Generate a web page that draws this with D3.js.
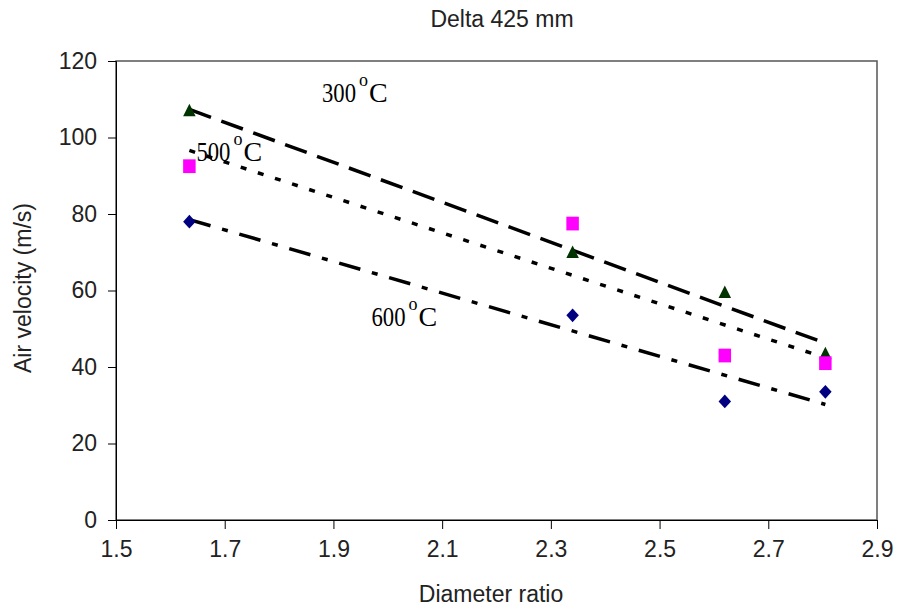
<!DOCTYPE html>
<html>
<head>
    <title>Delta 425 mm</title>
    <script src="https://cdnjs.cloudflare.com/ajax/libs/d3/7.8.5/d3.min.js"></script>
    <style>
        body {
            background: #ffffff;
            margin: 0;
            overflow: hidden;
        }
        text {
            font-family: "Liberation Sans", Arial, sans-serif;
            fill: #222;
        }
        .tick text {
            font-size: 23px;
        }
        .tick line, .domain {
            stroke: #000;
        }
        .temp-label {
            font-family: "Liberation Serif", "Times New Roman", serif;
            font-size: 28px;
            fill: #000;
        }
    </style>
</head>
<body>
    <svg id="chart"></svg>

    <script>
        // diameter ratio of each nozzle
        const diameterRatio = [1.635, 2.34, 2.62, 2.805];

        // air velocity (m/s) per temperature
        const v300 = [107, 70, 59.5, 43.5];
        const v500 = [92.5, 77.5, 43, 41];
        const v600 = [78, 53.5, 31, 33.5];

        const xTicks = [1.5, 1.7, 1.9, 2.1, 2.3, 2.5, 2.7, 2.9];
        const yTicks = [0, 20, 40, 60, 80, 100, 120];

        // marker outlines, unit size
        const triangle = [[0, -0.55], [0.5, 0.45], [-0.5, 0.45]];
        const square = [[-0.5, -0.55], [0.5, -0.55], [0.5, 0.55], [-0.5, 0.55]];
        const diamond = [[0, -0.55], [0.5, 0], [0, 0.55], [-0.5, 0]];

        const series = [
            {name: "300", values: v300, color: "#003300", shape: triangle, dash: "23,11", labelX: 1.879, labelY: 109.3},
            {name: "500", values: v500, color: "#ff00ff", shape: square, dash: "6,12", labelX: 1.648, labelY: 93.8},
            {name: "600", values: v600, color: "#000080", shape: diamond, dash: "22,12,6,12", labelX: 1.97, labelY: 50.6}
        ];

        const width = 902, height = 611;
        const margin = {top: 61, right: 25, bottom: 91, left: 116};

        const svg = d3.select("#chart")
            .attr("width", width)
            .attr("height", height);

        const x = d3.scaleLinear().domain([1.5, 2.9]).range([margin.left, width - margin.right]);
        const y = d3.scaleLinear().domain([0, 120]).range([height - margin.bottom, margin.top]);

        // plot frame
        svg.append("rect")
            .attr("x", x(1.5)).attr("y", y(120))
            .attr("width", x(2.9) - x(1.5)).attr("height", y(0) - y(120))
            .attr("fill", "none").attr("stroke", "#555").attr("stroke-width", 1.5);

        svg.append("g")
            .attr("transform", `translate(0,${y(0)})`)
            .call(d3.axisBottom(x).tickValues(xTicks).tickSize(9).tickPadding(12).tickFormat(d3.format(".1f")))
            .call(g => g.selectAll("text").attr("fill", "#222"));

        svg.append("g")
            .attr("transform", `translate(${x(1.5)},0)`)
            .call(d3.axisLeft(y).tickValues(yTicks).tickSize(8).tickPadding(11))
            .call(g => g.selectAll("text").attr("fill", "#222"));

        // least squares trend line per series
        function fit(xs, ys) {
            const mx = d3.mean(xs), my = d3.mean(ys);
            const sxy = d3.sum(xs, (v, i) => (v - mx) * (ys[i] - my));
            const sxx = d3.sum(xs, v => (v - mx) * (v - mx));
            const b = sxy / sxx;
            return v => my + b * (v - mx);
        }

        const xMin = d3.min(diameterRatio), xMax = d3.max(diameterRatio);

        series.forEach(s => {
            const f = fit(diameterRatio, s.values);
            svg.append("line")
                .attr("x1", x(xMin)).attr("y1", y(f(xMin)))
                .attr("x2", x(xMax)).attr("y2", y(f(xMax)))
                .attr("stroke", "#000")
                .attr("stroke-width", 3.5)
                .attr("stroke-dasharray", s.dash);
        });

        const markerSize = 12.5;
        const line = d3.line();

        series.forEach(s => {
            const shapePath = line(s.shape.map(p => [p[0] * markerSize, p[1] * markerSize])) + "Z";
            svg.append("g")
                .selectAll("path")
                .data(s.values)
                .enter().append("path")
                .attr("transform", (d, i) => `translate(${x(diameterRatio[i])},${y(d)})`)
                .attr("d", shapePath)
                .attr("fill", s.color);
        });

        // temperature labels
        series.forEach(s => {
            const t = svg.append("text")
                .attr("class", "temp-label")
                .attr("x", x(s.labelX))
                .attr("y", y(s.labelY));
            t.append("tspan")
                .attr("textLength", 34)
                .attr("lengthAdjust", "spacingAndGlyphs")
                .text(s.name);
            t.append("tspan").attr("font-size", 18).attr("dx", 3).attr("dy", -16).text("o");
            t.append("tspan").attr("dx", 1).attr("dy", 16).text("C");
        });

        svg.append("text")
            .attr("x", 502).attr("y", 27)
            .attr("text-anchor", "middle")
            .style("font-size", "23px")
            .text("Delta 425 mm");

        svg.append("text")
            .attr("x", 491).attr("y", 602)
            .attr("text-anchor", "middle")
            .style("font-size", "23px")
            .text("Diameter ratio");

        svg.append("text")
            .attr("transform", "translate(31,288) rotate(-90)")
            .attr("text-anchor", "middle")
            .style("font-size", "23px")
            .text("Air velocity (m/s)");
    </script>
</body>
</html>
